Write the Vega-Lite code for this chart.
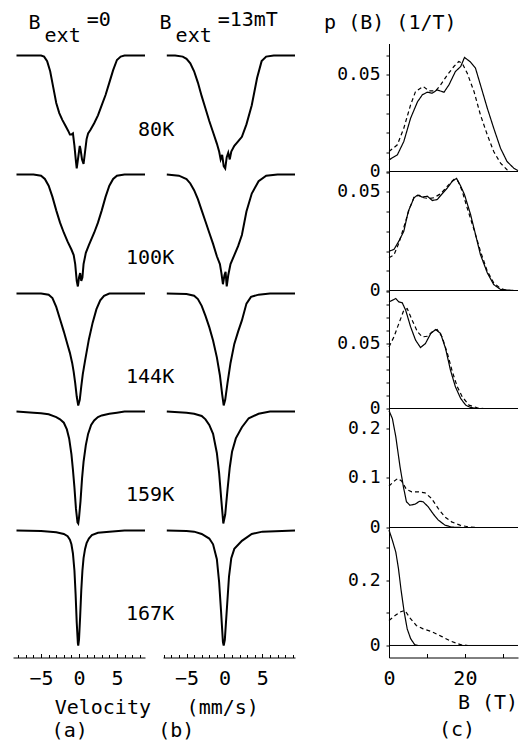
{
"$schema":"https://vega.github.io/schema/vega-lite/v6.json",
"background":"white",
"padding":{"left":12,"top":9.5,"right":0,"bottom":1},
"config":{"view":{"stroke":null},"font":"DejaVu Sans Mono",
"axis":{"grid":false,"domainColor":"black","tickColor":"black","labelColor":"black","labelFont":"DejaVu Sans Mono","labelFontSize":18,"domainWidth":1,"tickWidth":1,"labelFlush":false,"labelOverlap":false},
"text":{"font":"DejaVu Sans Mono","fontSize":20,"color":"black"},
"line":{"color":"black"}},
"datasets":{
"spec":[
{"s":"a80","v":-8.24,"n":1},{"s":"a80","v":-7,"n":1},{"s":"a80","v":-6,"n":1},{"s":"a80","v":-5,"n":1},{"s":"a80","v":-4.6,"n":0.99},{"s":"a80","v":-4.2,"n":0.95},{"s":"a80","v":-3.8,"n":0.86},{"s":"a80","v":-3.4,"n":0.72},{"s":"a80","v":-3.0,"n":0.58},{"s":"a80","v":-2.6,"n":0.49},{"s":"a80","v":-2.2,"n":0.43},{"s":"a80","v":-1.8,"n":0.38},{"s":"a80","v":-1.4,"n":0.33},{"s":"a80","v":-1.2,"n":0.30},{"s":"a80","v":-1.0,"n":0.30},{"s":"a80","v":-0.8,"n":0.31},{"s":"a80","v":-0.6,"n":0.2},{"s":"a80","v":-0.4,"n":0.06},{"s":"a80","v":-0.3,"n":0.0},{"s":"a80","v":-0.2,"n":0.05},{"s":"a80","v":0,"n":0.15},{"s":"a80","v":0.1,"n":0.2},{"s":"a80","v":0.2,"n":0.17},{"s":"a80","v":0.4,"n":0.08},{"s":"a80","v":0.6,"n":0.04},{"s":"a80","v":0.8,"n":0.15},{"s":"a80","v":1.0,"n":0.26},{"s":"a80","v":1.2,"n":0.31},{"s":"a80","v":1.5,"n":0.34},{"s":"a80","v":2.0,"n":0.4},{"s":"a80","v":2.5,"n":0.47},{"s":"a80","v":3.0,"n":0.56},{"s":"a80","v":3.5,"n":0.65},{"s":"a80","v":4.0,"n":0.76},{"s":"a80","v":4.5,"n":0.87},{"s":"a80","v":5.0,"n":0.96},{"s":"a80","v":5.5,"n":0.99},{"s":"a80","v":6,"n":1},{"s":"a80","v":7,"n":1},{"s":"a80","v":8,"n":1},{"s":"a80","v":8.7,"n":1},
{"s":"a100","v":-8.24,"n":1},{"s":"a100","v":-6,"n":1},{"s":"a100","v":-5,"n":0.99},{"s":"a100","v":-4.5,"n":0.96},{"s":"a100","v":-4,"n":0.9},{"s":"a100","v":-3.5,"n":0.8},{"s":"a100","v":-3,"n":0.68},{"s":"a100","v":-2.5,"n":0.57},{"s":"a100","v":-2,"n":0.48},{"s":"a100","v":-1.5,"n":0.4},{"s":"a100","v":-1.0,"n":0.33},{"s":"a100","v":-0.7,"n":0.28},{"s":"a100","v":-0.5,"n":0.2},{"s":"a100","v":-0.3,"n":0.05},{"s":"a100","v":-0.15,"n":0.0},{"s":"a100","v":0,"n":0.08},{"s":"a100","v":0.15,"n":0.12},{"s":"a100","v":0.3,"n":0.05},{"s":"a100","v":0.45,"n":0.08},{"s":"a100","v":0.6,"n":0.2},{"s":"a100","v":0.9,"n":0.3},{"s":"a100","v":1.3,"n":0.37},{"s":"a100","v":2,"n":0.48},{"s":"a100","v":2.5,"n":0.57},{"s":"a100","v":3,"n":0.68},{"s":"a100","v":3.5,"n":0.8},{"s":"a100","v":4,"n":0.9},{"s":"a100","v":4.5,"n":0.96},{"s":"a100","v":5,"n":0.99},{"s":"a100","v":6,"n":1},{"s":"a100","v":8.7,"n":1},
{"s":"a144","v":-8.24,"n":1},{"s":"a144","v":-5,"n":1},{"s":"a144","v":-4,"n":0.99},{"s":"a144","v":-3.5,"n":0.96},{"s":"a144","v":-3,"n":0.88},{"s":"a144","v":-2.5,"n":0.77},{"s":"a144","v":-2,"n":0.66},{"s":"a144","v":-1.5,"n":0.54},{"s":"a144","v":-1.2,"n":0.47},{"s":"a144","v":-0.9,"n":0.38},{"s":"a144","v":-0.7,"n":0.3},{"s":"a144","v":-0.5,"n":0.2},{"s":"a144","v":-0.3,"n":0.08},{"s":"a144","v":-0.1,"n":0.0},{"s":"a144","v":0.1,"n":0.05},{"s":"a144","v":0.3,"n":0.17},{"s":"a144","v":0.5,"n":0.28},{"s":"a144","v":0.8,"n":0.4},{"s":"a144","v":1.3,"n":0.59},{"s":"a144","v":1.8,"n":0.74},{"s":"a144","v":2.3,"n":0.86},{"s":"a144","v":2.8,"n":0.94},{"s":"a144","v":3.3,"n":0.98},{"s":"a144","v":4,"n":1},{"s":"a144","v":5,"n":1},{"s":"a144","v":8.7,"n":1},
{"s":"a159","v":-8.24,"n":1},{"s":"a159","v":-6,"n":0.99},{"s":"a159","v":-5,"n":0.985},{"s":"a159","v":-4,"n":0.975},{"s":"a159","v":-3,"n":0.95},{"s":"a159","v":-2.5,"n":0.93},{"s":"a159","v":-2,"n":0.9},{"s":"a159","v":-1.6,"n":0.84},{"s":"a159","v":-1.3,"n":0.76},{"s":"a159","v":-1.0,"n":0.62},{"s":"a159","v":-0.8,"n":0.48},{"s":"a159","v":-0.6,"n":0.32},{"s":"a159","v":-0.4,"n":0.13},{"s":"a159","v":-0.2,"n":0.01},{"s":"a159","v":-0.1,"n":0.0},{"s":"a159","v":0,"n":0.05},{"s":"a159","v":0.2,"n":0.2},{"s":"a159","v":0.4,"n":0.4},{"s":"a159","v":0.6,"n":0.55},{"s":"a159","v":0.9,"n":0.7},{"s":"a159","v":1.2,"n":0.8},{"s":"a159","v":1.6,"n":0.88},{"s":"a159","v":2,"n":0.92},{"s":"a159","v":2.5,"n":0.95},{"s":"a159","v":3,"n":0.965},{"s":"a159","v":4,"n":0.98},{"s":"a159","v":5,"n":0.99},{"s":"a159","v":6,"n":1},{"s":"a159","v":8.7,"n":1},
{"s":"a167","v":-8.24,"n":1},{"s":"a167","v":-5,"n":0.995},{"s":"a167","v":-3,"n":0.985},{"s":"a167","v":-2,"n":0.97},{"s":"a167","v":-1.5,"n":0.95},{"s":"a167","v":-1.2,"n":0.92},{"s":"a167","v":-1.0,"n":0.88},{"s":"a167","v":-0.8,"n":0.8},{"s":"a167","v":-0.6,"n":0.65},{"s":"a167","v":-0.45,"n":0.45},{"s":"a167","v":-0.3,"n":0.2},{"s":"a167","v":-0.15,"n":0.02},{"s":"a167","v":-0.1,"n":0},{"s":"a167","v":0,"n":0.05},{"s":"a167","v":0.15,"n":0.25},{"s":"a167","v":0.3,"n":0.48},{"s":"a167","v":0.45,"n":0.65},{"s":"a167","v":0.6,"n":0.76},{"s":"a167","v":0.8,"n":0.84},{"s":"a167","v":1.0,"n":0.89},{"s":"a167","v":1.3,"n":0.93},{"s":"a167","v":1.7,"n":0.96},{"s":"a167","v":2.5,"n":0.98},{"s":"a167","v":4,"n":0.99},{"s":"a167","v":6,"n":1},{"s":"a167","v":8.7,"n":1},
{"s":"b80","v":-7.6,"n":1},{"s":"b80","v":-6.5,"n":1},{"s":"b80","v":-5.5,"n":0.99},{"s":"b80","v":-5,"n":0.97},{"s":"b80","v":-4.5,"n":0.93},{"s":"b80","v":-4,"n":0.86},{"s":"b80","v":-3.5,"n":0.76},{"s":"b80","v":-3,"n":0.64},{"s":"b80","v":-2.5,"n":0.53},{"s":"b80","v":-2,"n":0.42},{"s":"b80","v":-1.5,"n":0.32},{"s":"b80","v":-1,"n":0.22},{"s":"b80","v":-0.7,"n":0.15},{"s":"b80","v":-0.5,"n":0.08},{"s":"b80","v":-0.3,"n":0.12},{"s":"b80","v":-0.1,"n":0.02},{"s":"b80","v":0.1,"n":0.0},{"s":"b80","v":0.3,"n":0.1},{"s":"b80","v":0.5,"n":0.14},{"s":"b80","v":0.7,"n":0.08},{"s":"b80","v":0.9,"n":0.15},{"s":"b80","v":1.3,"n":0.2},{"s":"b80","v":1.8,"n":0.24},{"s":"b80","v":2.3,"n":0.28},{"s":"b80","v":2.9,"n":0.39},{"s":"b80","v":3.6,"n":0.56},{"s":"b80","v":4.3,"n":0.8},{"s":"b80","v":4.9,"n":0.95},{"s":"b80","v":5.5,"n":0.99},{"s":"b80","v":6.5,"n":1},{"s":"b80","v":8,"n":1},{"s":"b80","v":9.3,"n":1},
{"s":"b100","v":-7.6,"n":1},{"s":"b100","v":-6,"n":0.99},{"s":"b100","v":-5,"n":0.96},{"s":"b100","v":-4.5,"n":0.92},{"s":"b100","v":-4,"n":0.86},{"s":"b100","v":-3.5,"n":0.78},{"s":"b100","v":-3,"n":0.68},{"s":"b100","v":-2.5,"n":0.58},{"s":"b100","v":-2,"n":0.48},{"s":"b100","v":-1.5,"n":0.38},{"s":"b100","v":-1,"n":0.27},{"s":"b100","v":-0.6,"n":0.2},{"s":"b100","v":-0.4,"n":0.12},{"s":"b100","v":-0.2,"n":0.02},{"s":"b100","v":0,"n":0.1},{"s":"b100","v":0.15,"n":0.13},{"s":"b100","v":0.3,"n":0.0},{"s":"b100","v":0.5,"n":0.1},{"s":"b100","v":0.8,"n":0.2},{"s":"b100","v":1.3,"n":0.28},{"s":"b100","v":1.8,"n":0.36},{"s":"b100","v":2.3,"n":0.46},{"s":"b100","v":2.9,"n":0.67},{"s":"b100","v":3.6,"n":0.83},{"s":"b100","v":4.5,"n":0.94},{"s":"b100","v":5.5,"n":0.99},{"s":"b100","v":7,"n":1},{"s":"b100","v":9.3,"n":1},
{"s":"b144","v":-7.6,"n":1},{"s":"b144","v":-5,"n":0.995},{"s":"b144","v":-4,"n":0.98},{"s":"b144","v":-3.5,"n":0.95},{"s":"b144","v":-3,"n":0.89},{"s":"b144","v":-2.5,"n":0.8},{"s":"b144","v":-2,"n":0.7},{"s":"b144","v":-1.5,"n":0.58},{"s":"b144","v":-1,"n":0.43},{"s":"b144","v":-0.6,"n":0.27},{"s":"b144","v":-0.3,"n":0.1},{"s":"b144","v":-0.1,"n":0.0},{"s":"b144","v":0.1,"n":0.05},{"s":"b144","v":0.4,"n":0.2},{"s":"b144","v":0.8,"n":0.38},{"s":"b144","v":1.3,"n":0.55},{"s":"b144","v":1.8,"n":0.66},{"s":"b144","v":2.3,"n":0.76},{"s":"b144","v":2.9,"n":0.91},{"s":"b144","v":3.5,"n":0.97},{"s":"b144","v":4.5,"n":0.99},{"s":"b144","v":6,"n":1},{"s":"b144","v":9.3,"n":1},
{"s":"b159","v":-7.6,"n":1},{"s":"b159","v":-5,"n":0.99},{"s":"b159","v":-4,"n":0.98},{"s":"b159","v":-3,"n":0.96},{"s":"b159","v":-2.5,"n":0.93},{"s":"b159","v":-2,"n":0.88},{"s":"b159","v":-1.5,"n":0.8},{"s":"b159","v":-1.0,"n":0.63},{"s":"b159","v":-0.7,"n":0.45},{"s":"b159","v":-0.4,"n":0.2},{"s":"b159","v":-0.15,"n":0.0},{"s":"b159","v":0.1,"n":0.08},{"s":"b159","v":0.4,"n":0.3},{"s":"b159","v":0.7,"n":0.5},{"s":"b159","v":1.0,"n":0.64},{"s":"b159","v":1.5,"n":0.76},{"s":"b159","v":2.3,"n":0.86},{"s":"b159","v":3.2,"n":0.94},{"s":"b159","v":4.5,"n":0.98},{"s":"b159","v":6,"n":1},{"s":"b159","v":9.3,"n":1},
{"s":"b167","v":-7.6,"n":1},{"s":"b167","v":-5,"n":0.995},{"s":"b167","v":-4,"n":0.99},{"s":"b167","v":-3,"n":0.97},{"s":"b167","v":-2,"n":0.93},{"s":"b167","v":-1.5,"n":0.88},{"s":"b167","v":-1.0,"n":0.75},{"s":"b167","v":-0.7,"n":0.55},{"s":"b167","v":-0.45,"n":0.3},{"s":"b167","v":-0.2,"n":0.03},{"s":"b167","v":-0.1,"n":0.0},{"s":"b167","v":0.05,"n":0.05},{"s":"b167","v":0.3,"n":0.3},{"s":"b167","v":0.6,"n":0.6},{"s":"b167","v":0.9,"n":0.76},{"s":"b167","v":1.3,"n":0.84},{"s":"b167","v":2.3,"n":0.91},{"s":"b167","v":3.6,"n":0.97},{"s":"b167","v":5,"n":0.99},{"s":"b167","v":9.3,"n":1}
],
"pb":[
{"s":"c1","f":"s","B":0,"p":0.006},{"s":"c1","f":"s","B":2.2,"p":0.0086},{"s":"c1","f":"s","B":3.9,"p":0.0155},{"s":"c1","f":"s","B":5.7,"p":0.0276},{"s":"c1","f":"s","B":7.5,"p":0.036},{"s":"c1","f":"s","B":8.8,"p":0.0397},{"s":"c1","f":"s","B":10.1,"p":0.041},{"s":"c1","f":"s","B":11.4,"p":0.0405},{"s":"c1","f":"s","B":12.7,"p":0.0422},{"s":"c1","f":"s","B":14.5,"p":0.041},{"s":"c1","f":"s","B":15.8,"p":0.0448},{"s":"c1","f":"s","B":17.5,"p":0.0517},{"s":"c1","f":"s","B":18.9,"p":0.0543},{"s":"c1","f":"s","B":19.9,"p":0.059},{"s":"c1","f":"s","B":21.5,"p":0.0566},{"s":"c1","f":"s","B":22.8,"p":0.0534},{"s":"c1","f":"s","B":24.1,"p":0.0448},{"s":"c1","f":"s","B":25.9,"p":0.0328},{"s":"c1","f":"s","B":27.6,"p":0.0224},{"s":"c1","f":"s","B":29.4,"p":0.012},{"s":"c1","f":"s","B":31.1,"p":0.0052},{"s":"c1","f":"s","B":32.9,"p":0.0017},{"s":"c1","f":"s","B":34,"p":0.0005},
{"s":"c1","f":"d","B":0,"p":0.0103},{"s":"c1","f":"d","B":2.2,"p":0.0138},{"s":"c1","f":"d","B":3.9,"p":0.0224},{"s":"c1","f":"d","B":5.7,"p":0.0345},{"s":"c1","f":"d","B":7.0,"p":0.0414},{"s":"c1","f":"d","B":9.0,"p":0.044},{"s":"c1","f":"d","B":10.5,"p":0.0417},{"s":"c1","f":"d","B":12.3,"p":0.0417},{"s":"c1","f":"d","B":13.6,"p":0.0448},{"s":"c1","f":"d","B":15.4,"p":0.05},{"s":"c1","f":"d","B":17.1,"p":0.0543},{"s":"c1","f":"d","B":18.4,"p":0.0569},{"s":"c1","f":"d","B":19.3,"p":0.056},{"s":"c1","f":"d","B":20.6,"p":0.0509},{"s":"c1","f":"d","B":22.4,"p":0.0414},{"s":"c1","f":"d","B":24.1,"p":0.0293},{"s":"c1","f":"d","B":25.9,"p":0.019},{"s":"c1","f":"d","B":27.6,"p":0.0103},{"s":"c1","f":"d","B":29.4,"p":0.0043},{"s":"c1","f":"d","B":31.1,"p":0.0009},{"s":"c1","f":"d","B":32,"p":0},
{"s":"c2","f":"s","B":0,"p":0.0199},{"s":"c2","f":"s","B":1.3,"p":0.0208},{"s":"c2","f":"s","B":2.6,"p":0.025},{"s":"c2","f":"s","B":3.9,"p":0.03},{"s":"c2","f":"s","B":5.1,"p":0.0402},{"s":"c2","f":"s","B":6.6,"p":0.047},{"s":"c2","f":"s","B":7.5,"p":0.0483},{"s":"c2","f":"s","B":8.8,"p":0.0473},{"s":"c2","f":"s","B":10.1,"p":0.0478},{"s":"c2","f":"s","B":11.4,"p":0.0456},{"s":"c2","f":"s","B":12.7,"p":0.0461},{"s":"c2","f":"s","B":14.0,"p":0.049},{"s":"c2","f":"s","B":15.4,"p":0.052},{"s":"c2","f":"s","B":16.7,"p":0.0554},{"s":"c2","f":"s","B":17.8,"p":0.0568},{"s":"c2","f":"s","B":18.9,"p":0.0529},{"s":"c2","f":"s","B":19.9,"p":0.0486},{"s":"c2","f":"s","B":21.5,"p":0.0385},{"s":"c2","f":"s","B":22.8,"p":0.0284},{"s":"c2","f":"s","B":24.1,"p":0.0182},{"s":"c2","f":"s","B":25.9,"p":0.009},{"s":"c2","f":"s","B":27.6,"p":0.003},{"s":"c2","f":"s","B":29.4,"p":0.0005},{"s":"c2","f":"s","B":32.9,"p":0},
{"s":"c2","f":"d","B":0,"p":0.0166},{"s":"c2","f":"d","B":1.3,"p":0.018},{"s":"c2","f":"d","B":2.6,"p":0.024},{"s":"c2","f":"d","B":3.9,"p":0.032},{"s":"c2","f":"d","B":5.3,"p":0.041},{"s":"c2","f":"d","B":6.6,"p":0.0473},{"s":"c2","f":"d","B":7.9,"p":0.0483},{"s":"c2","f":"d","B":9.2,"p":0.047},{"s":"c2","f":"d","B":10.5,"p":0.0466},{"s":"c2","f":"d","B":11.8,"p":0.047},{"s":"c2","f":"d","B":13.6,"p":0.049},{"s":"c2","f":"d","B":15.4,"p":0.0529},{"s":"c2","f":"d","B":17.1,"p":0.0563},{"s":"c2","f":"d","B":18.2,"p":0.0554},{"s":"c2","f":"d","B":19.3,"p":0.0503},{"s":"c2","f":"d","B":20.6,"p":0.0419},{"s":"c2","f":"d","B":22.4,"p":0.0309},{"s":"c2","f":"d","B":24.1,"p":0.0199},{"s":"c2","f":"d","B":25.9,"p":0.0098},{"s":"c2","f":"d","B":27.6,"p":0.0039},{"s":"c2","f":"d","B":29.4,"p":0.001},{"s":"c2","f":"d","B":31.1,"p":0},
{"s":"c3","f":"s","B":0,"p":0.082},{"s":"c3","f":"s","B":0.9,"p":0.0833},{"s":"c3","f":"s","B":1.8,"p":0.0846},{"s":"c3","f":"s","B":2.6,"p":0.082},{"s":"c3","f":"s","B":3.5,"p":0.0813},{"s":"c3","f":"s","B":4.4,"p":0.0756},{"s":"c3","f":"s","B":5.7,"p":0.0628},{"s":"c3","f":"s","B":7.0,"p":0.0526},{"s":"c3","f":"s","B":8.3,"p":0.0469},{"s":"c3","f":"s","B":9.6,"p":0.05},{"s":"c3","f":"s","B":11.0,"p":0.0577},{"s":"c3","f":"s","B":12.3,"p":0.0608},{"s":"c3","f":"s","B":13.6,"p":0.0577},{"s":"c3","f":"s","B":14.9,"p":0.0462},{"s":"c3","f":"s","B":16.2,"p":0.0295},{"s":"c3","f":"s","B":17.5,"p":0.0167},{"s":"c3","f":"s","B":18.9,"p":0.0077},{"s":"c3","f":"s","B":20.2,"p":0.0026},{"s":"c3","f":"s","B":21.5,"p":0.0008},{"s":"c3","f":"s","B":23.3,"p":0},
{"s":"c3","f":"d","B":0,"p":0.0474},{"s":"c3","f":"d","B":1.3,"p":0.0551},{"s":"c3","f":"d","B":2.6,"p":0.0654},{"s":"c3","f":"d","B":3.9,"p":0.0756},{"s":"c3","f":"d","B":4.8,"p":0.0769},{"s":"c3","f":"d","B":6.1,"p":0.068},{"s":"c3","f":"d","B":7.5,"p":0.059},{"s":"c3","f":"d","B":8.8,"p":0.0551},{"s":"c3","f":"d","B":10.1,"p":0.0556},{"s":"c3","f":"d","B":11.4,"p":0.059},{"s":"c3","f":"d","B":12.7,"p":0.0608},{"s":"c3","f":"d","B":14.0,"p":0.0551},{"s":"c3","f":"d","B":15.4,"p":0.0423},{"s":"c3","f":"d","B":16.7,"p":0.0282},{"s":"c3","f":"d","B":18.0,"p":0.0167},{"s":"c3","f":"d","B":19.3,"p":0.009},{"s":"c3","f":"d","B":21.1,"p":0.0026},{"s":"c3","f":"d","B":23.3,"p":0.0005},{"s":"c3","f":"d","B":25,"p":0},
{"s":"c4","f":"s","B":0,"p":0.236},{"s":"c4","f":"s","B":0.9,"p":0.22},{"s":"c4","f":"s","B":1.8,"p":0.183},{"s":"c4","f":"s","B":2.9,"p":0.123},{"s":"c4","f":"s","B":3.8,"p":0.082},{"s":"c4","f":"s","B":4.6,"p":0.052},{"s":"c4","f":"s","B":5.5,"p":0.045},{"s":"c4","f":"s","B":6.8,"p":0.047},{"s":"c4","f":"s","B":8.1,"p":0.053},{"s":"c4","f":"s","B":9.0,"p":0.052},{"s":"c4","f":"s","B":10.3,"p":0.042},{"s":"c4","f":"s","B":11.7,"p":0.027},{"s":"c4","f":"s","B":13.0,"p":0.015},{"s":"c4","f":"s","B":14.7,"p":0.005},{"s":"c4","f":"s","B":16.5,"p":0.0007},{"s":"c4","f":"s","B":19,"p":0},
{"s":"c4","f":"d","B":0,"p":0.0835},{"s":"c4","f":"d","B":1.1,"p":0.092},{"s":"c4","f":"d","B":2.3,"p":0.099},{"s":"c4","f":"d","B":3.3,"p":0.094},{"s":"c4","f":"d","B":4.6,"p":0.077},{"s":"c4","f":"d","B":6.0,"p":0.072},{"s":"c4","f":"d","B":7.7,"p":0.072},{"s":"c4","f":"d","B":9.5,"p":0.07},{"s":"c4","f":"d","B":11.2,"p":0.059},{"s":"c4","f":"d","B":13.0,"p":0.038},{"s":"c4","f":"d","B":14.7,"p":0.0215},{"s":"c4","f":"d","B":16.5,"p":0.0114},{"s":"c4","f":"d","B":18.7,"p":0.0047},{"s":"c4","f":"d","B":20.9,"p":0.0013},{"s":"c4","f":"d","B":23.5,"p":0},
{"s":"c5","f":"s","B":0,"p":0.355},{"s":"c5","f":"s","B":0.9,"p":0.323},{"s":"c5","f":"s","B":1.8,"p":0.287},{"s":"c5","f":"s","B":2.5,"p":0.236},{"s":"c5","f":"s","B":3.2,"p":0.169},{"s":"c5","f":"s","B":4.0,"p":0.103},{"s":"c5","f":"s","B":4.8,"p":0.051},{"s":"c5","f":"s","B":5.7,"p":0.021},{"s":"c5","f":"s","B":6.8,"p":0.002},{"s":"c5","f":"s","B":7.7,"p":0},
{"s":"c5","f":"d","B":0,"p":0.077},{"s":"c5","f":"d","B":1.6,"p":0.092},{"s":"c5","f":"d","B":2.9,"p":0.103},{"s":"c5","f":"d","B":4.2,"p":0.108},{"s":"c5","f":"d","B":5.5,"p":0.085},{"s":"c5","f":"d","B":7.2,"p":0.0615},{"s":"c5","f":"d","B":9.0,"p":0.051},{"s":"c5","f":"d","B":11.2,"p":0.043},{"s":"c5","f":"d","B":13.8,"p":0.028},{"s":"c5","f":"d","B":16.5,"p":0.0123},{"s":"c5","f":"d","B":19.0,"p":0.002},{"s":"c5","f":"d","B":20.8,"p":0}
],
"lab":[
{"p":"a1","k":"r","t":"80K","x":12.55,"y":0.336},
{"p":"a2","k":"r","t":"100K","x":12.55,"y":0.25},
{"p":"a3","k":"r","t":"144K","x":12.55,"y":0.25},
{"p":"a4","k":"r","t":"159K","x":12.55,"y":0.25},
{"p":"a5","k":"r","t":"167K","x":12.55,"y":0.27},
{"p":"a1","k":"l","t":"B","x":-6.65,"y":1.288},
{"p":"a1","k":"l","t":"ext","x":-4.54,"y":1.174},
{"p":"a1","k":"l","t":"=0","x":1.02,"y":1.31},
{"p":"b1","k":"l","t":"B","x":-8.56,"y":1.288},
{"p":"b1","k":"l","t":"ext","x":-6.44,"y":1.174},
{"p":"b1","k":"l","t":"=13mT","x":-0.89,"y":1.31},
{"p":"c1","k":"l","t":"p (B) (1/T)","x":-17.1,"y":0.0768},
{"p":"a5","k":"l","t":"Velocity","x":-3.21,"y":-0.539},
{"p":"a5","k":"l","t":"(a)","x":-3.61,"y":-0.739},
{"p":"b5","k":"l","t":"(mm/s)","x":-4.99,"y":-0.539},
{"p":"b5","k":"l","t":"(b)","x":-8.73,"y":-0.739},
{"p":"c5","k":"l","t":"B  (T)","x":18.16,"y":-0.178},
{"p":"c5","k":"l","t":"(c)","x":13.16,"y":-0.2615}
]
},
"columns":4,
"spacing":{"row":0,"column":18},
"bounds":"flush",
"resolve":{"scale":{"x":"independent","y":"independent"}},
"concat":[
{"width":132,"height":128,"layer":[
{"data":{"name":"spec"},"transform":[{"filter":"datum.s=='a80'"}],"mark":{"type":"line","strokeWidth":2},"encoding":{"x":{"field":"v","type":"quantitative","scale":{"domain":[-8.7,8.7],"nice":false,"zero":false},"axis":null},"y":{"field":"n","type":"quantitative","scale":{"domain":[-0.027,1.106],"nice":false,"zero":false},"axis":null}}},
{"data":{"name":"lab"},"transform":[{"filter":"datum.p=='a1'&&datum.k=='r'"}],"mark":{"type":"text","align":"right","baseline":"middle"},"encoding":{"x":{"field":"x","type":"quantitative","axis":null},"y":{"field":"y","type":"quantitative","axis":null},"text":{"field":"t","type":"nominal"}}},
{"data":{"name":"lab"},"transform":[{"filter":"datum.p=='a1'&&datum.k=='l'"}],"mark":{"type":"text","align":"left","baseline":"middle"},"encoding":{"x":{"field":"x","type":"quantitative","axis":null},"y":{"field":"y","type":"quantitative","axis":null},"text":{"field":"t","type":"nominal"}}}
]},
{"width":132,"height":128,"layer":[
{"data":{"name":"spec"},"transform":[{"filter":"datum.s=='b80'"}],"mark":{"type":"line","strokeWidth":2},"encoding":{"x":{"field":"v","type":"quantitative","scale":{"domain":[-8.1,9.3],"nice":false,"zero":false},"axis":null},"y":{"field":"n","type":"quantitative","scale":{"domain":[-0.027,1.106],"nice":false,"zero":false},"axis":null}}},
{"data":{"name":"lab"},"transform":[{"filter":"datum.p=='b1'&&datum.k=='l'"}],"mark":{"type":"text","align":"left","baseline":"middle"},"encoding":{"x":{"field":"x","type":"quantitative","axis":null},"y":{"field":"y","type":"quantitative","axis":null},"text":{"field":"t","type":"nominal"}}}
]},
{"width":58,"height":128,"data":{"values":[]},"mark":"point"},
{"width":129,"height":128,"resolve":{"axis":{"y":"independent"}},"layer":[
{"data":{"values":[{"z":0}]},"mark":{"type":"rule","color":"black","strokeWidth":1},"encoding":{"y":{"field":"z","type":"quantitative","axis":{"orient":"left","title":null,"values":[0.01,0.02,0.03,0.04,0.06],"labels":false,"domain":false,"tickSize":3}}}},
{"data":{"name":"pb"},"transform":[{"filter":"datum.s=='c1'"}],"mark":{"type":"line","strokeWidth":1.2},"encoding":{"x":{"field":"B","type":"quantitative","scale":{"domain":[0,34],"nice":false,"zero":false},"axis":null},"y":{"field":"p","type":"quantitative","scale":{"domain":[0,0.0662],"nice":false,"zero":false},"axis":{"orient":"left","title":null,"labelOverlap":false,"values":[0,0.05],"labelExpr":"datum.value==0?'0':'0.05'","tickSize":3,"labelPadding":6}},"strokeDash":{"field":"f","type":"nominal","scale":{"domain":["s","d"],"range":[[1,0],[4,3]]},"legend":null}}},
{"data":{"name":"lab"},"transform":[{"filter":"datum.p=='c1'&&datum.k=='l'"}],"mark":{"type":"text","align":"left","baseline":"middle"},"encoding":{"x":{"field":"x","type":"quantitative","axis":null},"y":{"field":"y","type":"quantitative","axis":null},"text":{"field":"t","type":"nominal"}}}
]},
{"width":132,"height":119,"layer":[
{"data":{"name":"spec"},"transform":[{"filter":"datum.s=='a100'"}],"mark":{"type":"line","strokeWidth":2},"encoding":{"x":{"field":"v","type":"quantitative","scale":{"domain":[-8.7,8.7],"nice":false,"zero":false},"axis":null},"y":{"field":"n","type":"quantitative","scale":{"domain":[-0.036,1.027],"nice":false,"zero":false},"axis":null}}},
{"data":{"name":"lab"},"transform":[{"filter":"datum.p=='a2'&&datum.k=='r'"}],"mark":{"type":"text","align":"right","baseline":"middle"},"encoding":{"x":{"field":"x","type":"quantitative","axis":null},"y":{"field":"y","type":"quantitative","axis":null},"text":{"field":"t","type":"nominal"}}}
]},
{"width":132,"height":119,"data":{"name":"spec"},"transform":[{"filter":"datum.s=='b100'"}],"mark":{"type":"line","strokeWidth":2},"encoding":{"x":{"field":"v","type":"quantitative","scale":{"domain":[-8.1,9.3],"nice":false,"zero":false},"axis":null},"y":{"field":"n","type":"quantitative","scale":{"domain":[-0.036,1.027],"nice":false,"zero":false},"axis":null}}},
{"width":58,"height":119,"data":{"values":[]},"mark":"point"},
{"width":129,"height":119,"resolve":{"axis":{"y":"independent"}},"layer":[
{"data":{"values":[{"z":0}]},"mark":{"type":"rule","color":"black","strokeWidth":1},"encoding":{"y":{"field":"z","type":"quantitative","axis":{"orient":"left","title":null,"values":[0.01,0.02,0.03,0.04,0.06],"labels":false,"domain":false,"tickSize":3}}}},
{"data":{"name":"pb"},"transform":[{"filter":"datum.s=='c2'"}],"mark":{"type":"line","strokeWidth":1.2},"encoding":{"x":{"field":"B","type":"quantitative","scale":{"domain":[0,34],"nice":false,"zero":false},"axis":null},"y":{"field":"p","type":"quantitative","scale":{"domain":[0,0.0603],"nice":false,"zero":false},"axis":{"orient":"left","title":null,"labelOverlap":false,"values":[0,0.05],"labelExpr":"datum.value==0?'0':'0.05'","tickSize":3,"labelPadding":6}},"strokeDash":{"field":"f","type":"nominal","scale":{"domain":["s","d"],"range":[[1,0],[4,3]]},"legend":null}}}
]},
{"width":132,"height":118,"layer":[
{"data":{"name":"spec"},"transform":[{"filter":"datum.s=='a144'"}],"mark":{"type":"line","strokeWidth":2},"encoding":{"x":{"field":"v","type":"quantitative","scale":{"domain":[-8.7,8.7],"nice":false,"zero":false},"axis":null},"y":{"field":"n","type":"quantitative","scale":{"domain":[-0.027,1.027],"nice":false,"zero":false},"axis":null}}},
{"data":{"name":"lab"},"transform":[{"filter":"datum.p=='a3'&&datum.k=='r'"}],"mark":{"type":"text","align":"right","baseline":"middle"},"encoding":{"x":{"field":"x","type":"quantitative","axis":null},"y":{"field":"y","type":"quantitative","axis":null},"text":{"field":"t","type":"nominal"}}}
]},
{"width":132,"height":118,"data":{"name":"spec"},"transform":[{"filter":"datum.s=='b144'"}],"mark":{"type":"line","strokeWidth":2},"encoding":{"x":{"field":"v","type":"quantitative","scale":{"domain":[-8.1,9.3],"nice":false,"zero":false},"axis":null},"y":{"field":"n","type":"quantitative","scale":{"domain":[-0.027,1.027],"nice":false,"zero":false},"axis":null}}},
{"width":58,"height":118,"data":{"values":[]},"mark":"point"},
{"width":129,"height":118,"resolve":{"axis":{"y":"independent"}},"layer":[
{"data":{"values":[{"z":0}]},"mark":{"type":"rule","color":"black","strokeWidth":1},"encoding":{"y":{"field":"z","type":"quantitative","axis":{"orient":"left","title":null,"values":[0.01,0.02,0.03,0.04,0.06,0.07,0.08,0.09],"labels":false,"domain":false,"tickSize":3}}}},
{"data":{"name":"pb"},"transform":[{"filter":"datum.s=='c3'"}],"mark":{"type":"line","strokeWidth":1.2},"encoding":{"x":{"field":"B","type":"quantitative","scale":{"domain":[0,34],"nice":false,"zero":false},"axis":null},"y":{"field":"p","type":"quantitative","scale":{"domain":[0,0.0908],"nice":false,"zero":false},"axis":{"orient":"left","title":null,"labelOverlap":false,"values":[0,0.05],"labelExpr":"datum.value==0?'0':'0.05'","tickSize":3,"labelPadding":6}},"strokeDash":{"field":"f","type":"nominal","scale":{"domain":["s","d"],"range":[[1,0],[4,3]]},"legend":null}}}
]},
{"width":132,"height":119,"layer":[
{"data":{"name":"spec"},"transform":[{"filter":"datum.s=='a159'"}],"mark":{"type":"line","strokeWidth":2},"encoding":{"x":{"field":"v","type":"quantitative","scale":{"domain":[-8.7,8.7],"nice":false,"zero":false},"axis":null},"y":{"field":"n","type":"quantitative","scale":{"domain":[-0.036,1.027],"nice":false,"zero":false},"axis":null}}},
{"data":{"name":"lab"},"transform":[{"filter":"datum.p=='a4'&&datum.k=='r'"}],"mark":{"type":"text","align":"right","baseline":"middle"},"encoding":{"x":{"field":"x","type":"quantitative","axis":null},"y":{"field":"y","type":"quantitative","axis":null},"text":{"field":"t","type":"nominal"}}}
]},
{"width":132,"height":119,"data":{"name":"spec"},"transform":[{"filter":"datum.s=='b159'"}],"mark":{"type":"line","strokeWidth":2},"encoding":{"x":{"field":"v","type":"quantitative","scale":{"domain":[-8.1,9.3],"nice":false,"zero":false},"axis":null},"y":{"field":"n","type":"quantitative","scale":{"domain":[-0.036,1.027],"nice":false,"zero":false},"axis":null}}},
{"width":58,"height":119,"data":{"values":[]},"mark":"point"},
{"width":129,"height":119,"layer":[
{"data":{"values":[{"z":0}]},"mark":{"type":"rule","color":"black","strokeWidth":1},"encoding":{"y":{"field":"z","type":"quantitative"}}},
{"data":{"name":"pb"},"transform":[{"filter":"datum.s=='c4'"}],"mark":{"type":"line","strokeWidth":1.2},"encoding":{"x":{"field":"B","type":"quantitative","scale":{"domain":[0,34],"nice":false,"zero":false},"axis":null},"y":{"field":"p","type":"quantitative","scale":{"domain":[0,0.2404],"nice":false,"zero":false},"axis":{"title":null,"labelOverlap":false,"values":[0,0.05,0.1,0.15,0.2],"labelExpr":"datum.value==0?'0':datum.value==0.1?'0.1':datum.value==0.2?'0.2':''","tickSize":3,"labelPadding":6}},"strokeDash":{"field":"f","type":"nominal","scale":{"domain":["s","d"],"range":[[1,0],[4,3]]},"legend":null}}}
]},
{"width":132,"height":130,"resolve":{"axis":{"x":"independent"}},"layer":[
{"data":{"name":"spec"},"transform":[{"filter":"datum.s=='a167'"}],"mark":{"type":"line","strokeWidth":2},"encoding":{"x":{"field":"v","type":"quantitative","scale":{"domain":[-8.7,8.7],"nice":false,"zero":false},"axis":{"orient":"bottom","title":null,"labelOverlap":false,"values":[-5,0,5],"labelExpr":"datum.value<0?'−5':datum.value==0?'0':'5'","labelFontSize":20,"tickSize":-4,"labelPadding":15}},"y":{"field":"n","type":"quantitative","scale":{"domain":[-0.104,1.026],"nice":false,"zero":false},"axis":null}}},
{"data":{"name":"lab"},"transform":[{"filter":"datum.p=='a5'&&datum.k=='r'"}],"mark":{"type":"text","align":"right","baseline":"middle"},"encoding":{"x":{"field":"x","type":"quantitative","axis":{"orient":"bottom","title":null,"values":[-8,-7,-6,-4,-3,-2,-1,1,2,3,4,6,7,8],"labels":false,"domain":false,"tickSize":-3}},"y":{"field":"y","type":"quantitative","axis":null},"text":{"field":"t","type":"nominal"}}},
{"data":{"name":"lab"},"transform":[{"filter":"datum.p=='a5'&&datum.k=='l'"}],"mark":{"type":"text","align":"left","baseline":"middle"},"encoding":{"x":{"field":"x","type":"quantitative","axis":null},"y":{"field":"y","type":"quantitative","axis":null},"text":{"field":"t","type":"nominal"}}}
]},
{"width":132,"height":130,"resolve":{"axis":{"x":"independent"}},"layer":[
{"data":{"name":"spec"},"transform":[{"filter":"datum.s=='b167'"}],"mark":{"type":"line","strokeWidth":2},"encoding":{"x":{"field":"v","type":"quantitative","scale":{"domain":[-8.1,9.3],"nice":false,"zero":false},"axis":{"orient":"bottom","title":null,"labelOverlap":false,"values":[-5,0,5],"labelExpr":"datum.value<0?'−5':datum.value==0?'0':'5'","labelFontSize":20,"tickSize":-4,"labelPadding":15}},"y":{"field":"n","type":"quantitative","scale":{"domain":[-0.104,1.026],"nice":false,"zero":false},"axis":null}}},
{"data":{"name":"lab"},"transform":[{"filter":"datum.p=='b5'&&datum.k=='l'"}],"mark":{"type":"text","align":"left","baseline":"middle"},"encoding":{"x":{"field":"x","type":"quantitative","axis":{"orient":"bottom","title":null,"values":[-8,-7,-6,-4,-3,-2,-1,1,2,3,4,6,7,8,9],"labels":false,"domain":false,"tickSize":-3}},"y":{"field":"y","type":"quantitative","axis":null},"text":{"field":"t","type":"nominal"}}}
]},
{"width":58,"height":130,"data":{"values":[]},"mark":"point"},
{"width":129,"height":130,"layer":[
{"data":{"values":[{"z":0}]},"mark":{"type":"rule","color":"black","strokeWidth":1},"encoding":{"y":{"field":"z","type":"quantitative"}}},
{"data":{"name":"pb"},"transform":[{"filter":"datum.s=='c5'"}],"mark":{"type":"line","strokeWidth":1.2},"encoding":{"x":{"field":"B","type":"quantitative","scale":{"domain":[0,34],"nice":false,"zero":false},"axis":{"title":null,"labelOverlap":false,"values":[0,5,10,15,20,25,30],"labelExpr":"datum.value==0?'0':datum.value==20?'20':''","labelFontSize":20,"tickSize":-4,"labelPadding":15}},"y":{"field":"p","type":"quantitative","scale":{"domain":[-0.037,0.363],"nice":false,"zero":false},"axis":{"title":null,"labelOverlap":false,"values":[0,0.05,0.1,0.15,0.2,0.25,0.3,0.35],"labelExpr":"datum.value==0?'0':datum.value==0.2?'0.2':''","tickSize":3,"labelPadding":6}},"strokeDash":{"field":"f","type":"nominal","scale":{"domain":["s","d"],"range":[[1,0],[4,3]]},"legend":null}}},
{"data":{"name":"lab"},"transform":[{"filter":"datum.p=='c5'&&datum.k=='l'"}],"mark":{"type":"text","align":"left","baseline":"middle"},"encoding":{"x":{"field":"x","type":"quantitative"},"y":{"field":"y","type":"quantitative"},"text":{"field":"t","type":"nominal"}}}
]}
]
}
